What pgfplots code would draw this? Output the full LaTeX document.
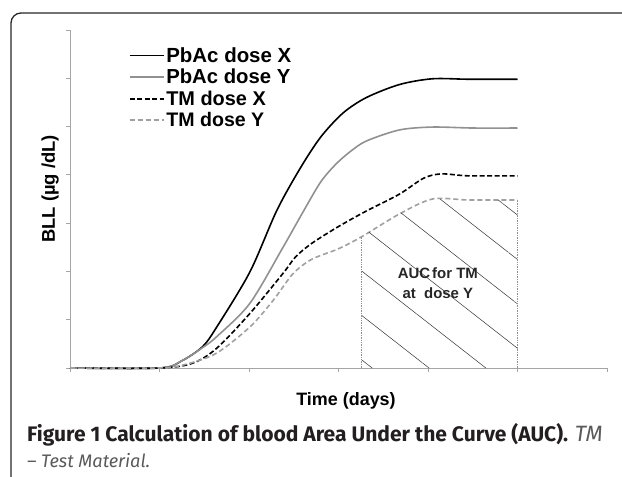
\documentclass[border=0pt]{standalone}
\usepackage{fontspec}
\setmainfont{Liberation Sans}
\newfontfamily\capfont{Fira Sans}
\usepackage{pgfplots}
\pgfplotsset{compat=1.18}
\usetikzlibrary{patterns.meta}
\definecolor{lgray}{RGB}{145,145,145}
\definecolor{dgray}{RGB}{160,160,160}
\definecolor{axgray}{RGB}{165,165,165}
\definecolor{captxt}{RGB}{35,31,32}
\definecolor{capit}{RGB}{90,90,90}
\newcommand{\lgf}{\bfseries\fontsize{15}{18}\selectfont}
\begin{document}
\begin{tikzpicture}
\path[use as bounding box] (0bp,0bp) rectangle (622bp,-477bp);
\draw[rounded corners=10bp, line width=1.3bp, black!85] (11bp,-500bp) -- (11bp,-13bp) -- (660bp,-13bp);
\begin{axis}[
  at={(70bp,-368bp)}, anchor=south west,
  scale only axis, width=537bp, height=338bp,
  xmin=0, xmax=6, ymin=0, ymax=7,
  axis lines*=left,
  axis line style={axgray, line width=0.8bp},
  xtick={0,...,6}, ytick={0,...,7},
  xticklabels={}, yticklabels={},
  tick align=outside, major tick length=4bp,
  tick style={axgray, line width=0.8bp},
  clip=false,
  xlabel={Time (days)},
  xlabel style={font=\bfseries\fontsize{18}{20}\selectfont, at={(axis description cs:0.514,0)}, anchor=base, yshift=-37bp},
  ylabel={BLL (µg /dL)},
  ylabel style={font=\bfseries\fontsize{18.5}{20}\selectfont, at={(axis description cs:-0.028,0.53)}, anchor=base},
  legend style={at={(axis description cs:0.109,0.955)}, anchor=north west, draw=none, fill=none,
    font=\lgf, row sep=1.5bp, inner sep=0pt, cells={anchor=west}},
  legend image code/.code={\draw[#1] (0bp,0bp) -- (34bp,0bp);},
]
\addplot[black, line width=1.6bp, smooth] coordinates {
(0,0) (1,0) (1.25,0.15) (1.48,0.44) (1.64,0.85) (2.01,1.99) (2.31,3.26) (2.57,4.13) (2.8,4.78) (3.05,5.28) (3.31,5.6) (3.68,5.87) (4.05,5.99) (4.46,5.98) (5,5.98)};
\addlegendentry{\resizebox{125bp}{!}{\bfseries PbAc dose X}}
\addplot[lgray, line width=1.6bp, smooth] coordinates {
(0,0) (1,0) (1.25,0.15) (1.48,0.42) (1.64,0.65) (2.01,1.34) (2.38,2.5) (2.6,3.22) (2.8,3.85) (2.97,4.22) (3.13,4.48) (3.31,4.7) (3.68,4.93) (4.05,4.99) (4.5,4.97) (5,4.97)};
\addlegendentry{\resizebox{124bp}{!}{\bfseries PbAc dose Y}}
\addplot[black, line width=1.6bp, dash pattern=on 5bp off 2.5bp, smooth] coordinates {
(0,0) (1,0) (1.37,0.1) (1.64,0.41) (2.01,1.13) (2.38,1.96) (2.52,2.3) (2.7,2.58) (3.0,2.93) (3.31,3.25) (3.68,3.6) (3.95,3.93) (4.15,4.02) (4.45,3.98) (5,3.98)};
\addlegendentry{\resizebox{99.5bp}{!}{\bfseries TM dose X}}
\addplot[dgray, line width=1.6bp, dash pattern=on 5bp off 3bp, smooth] coordinates {
(0,0) (1,0) (1.3,0.08) (1.64,0.31) (2.01,0.85) (2.27,1.40) (2.49,1.95) (2.7,2.25) (3.0,2.47) (3.26,2.72) (3.68,3.19) (4.05,3.5) (4.45,3.48) (5,3.48)};
\addlegendentry{\resizebox{98bp}{!}{\bfseries TM dose Y}}
\addplot[pattern={Lines[angle=-38,distance=35bp,line width=0.5bp]}, pattern color=black!80, draw=none, forget plot]
  coordinates {(3.26,0) (3.26,2.72) (3.47,2.96) (3.68,3.19) (3.87,3.38) (4.05,3.5) (4.25,3.5) (4.45,3.48) (5,3.48) (5,0)} -- cycle;
\addplot[lgray, densely dotted, line width=0.7bp, forget plot] coordinates {(3.26,0) (3.26,2.72)};
\addplot[lgray, densely dotted, line width=0.7bp, forget plot] coordinates {(5,0) (5,3.48)};
\node[font=\bfseries\fontsize{15}{20}\selectfont, align=center, text=black!85] at (axis cs:4.11,1.75) {AUC\hspace{2bp}for TM\\at\ \ dose Y};
\end{axis}
\node[anchor=base west, inner sep=0pt, text=captxt] at (27bp,-441bp)
  {\resizebox{541bp}{!}{\capfont\bfseries Figure 1 Calculation of blood Area Under the Curve (AUC).}};
\node[anchor=base east, inner sep=0pt, text=capit] at (603bp,-441bp)
  {\resizebox{28bp}{!}{\capfont\itshape TM}};
\node[anchor=base west, inner sep=0pt, text=capit] at (27bp,-467bp)
  {\resizebox{123bp}{!}{\capfont\itshape – Test Material.}};
\end{tikzpicture}
\end{document}
